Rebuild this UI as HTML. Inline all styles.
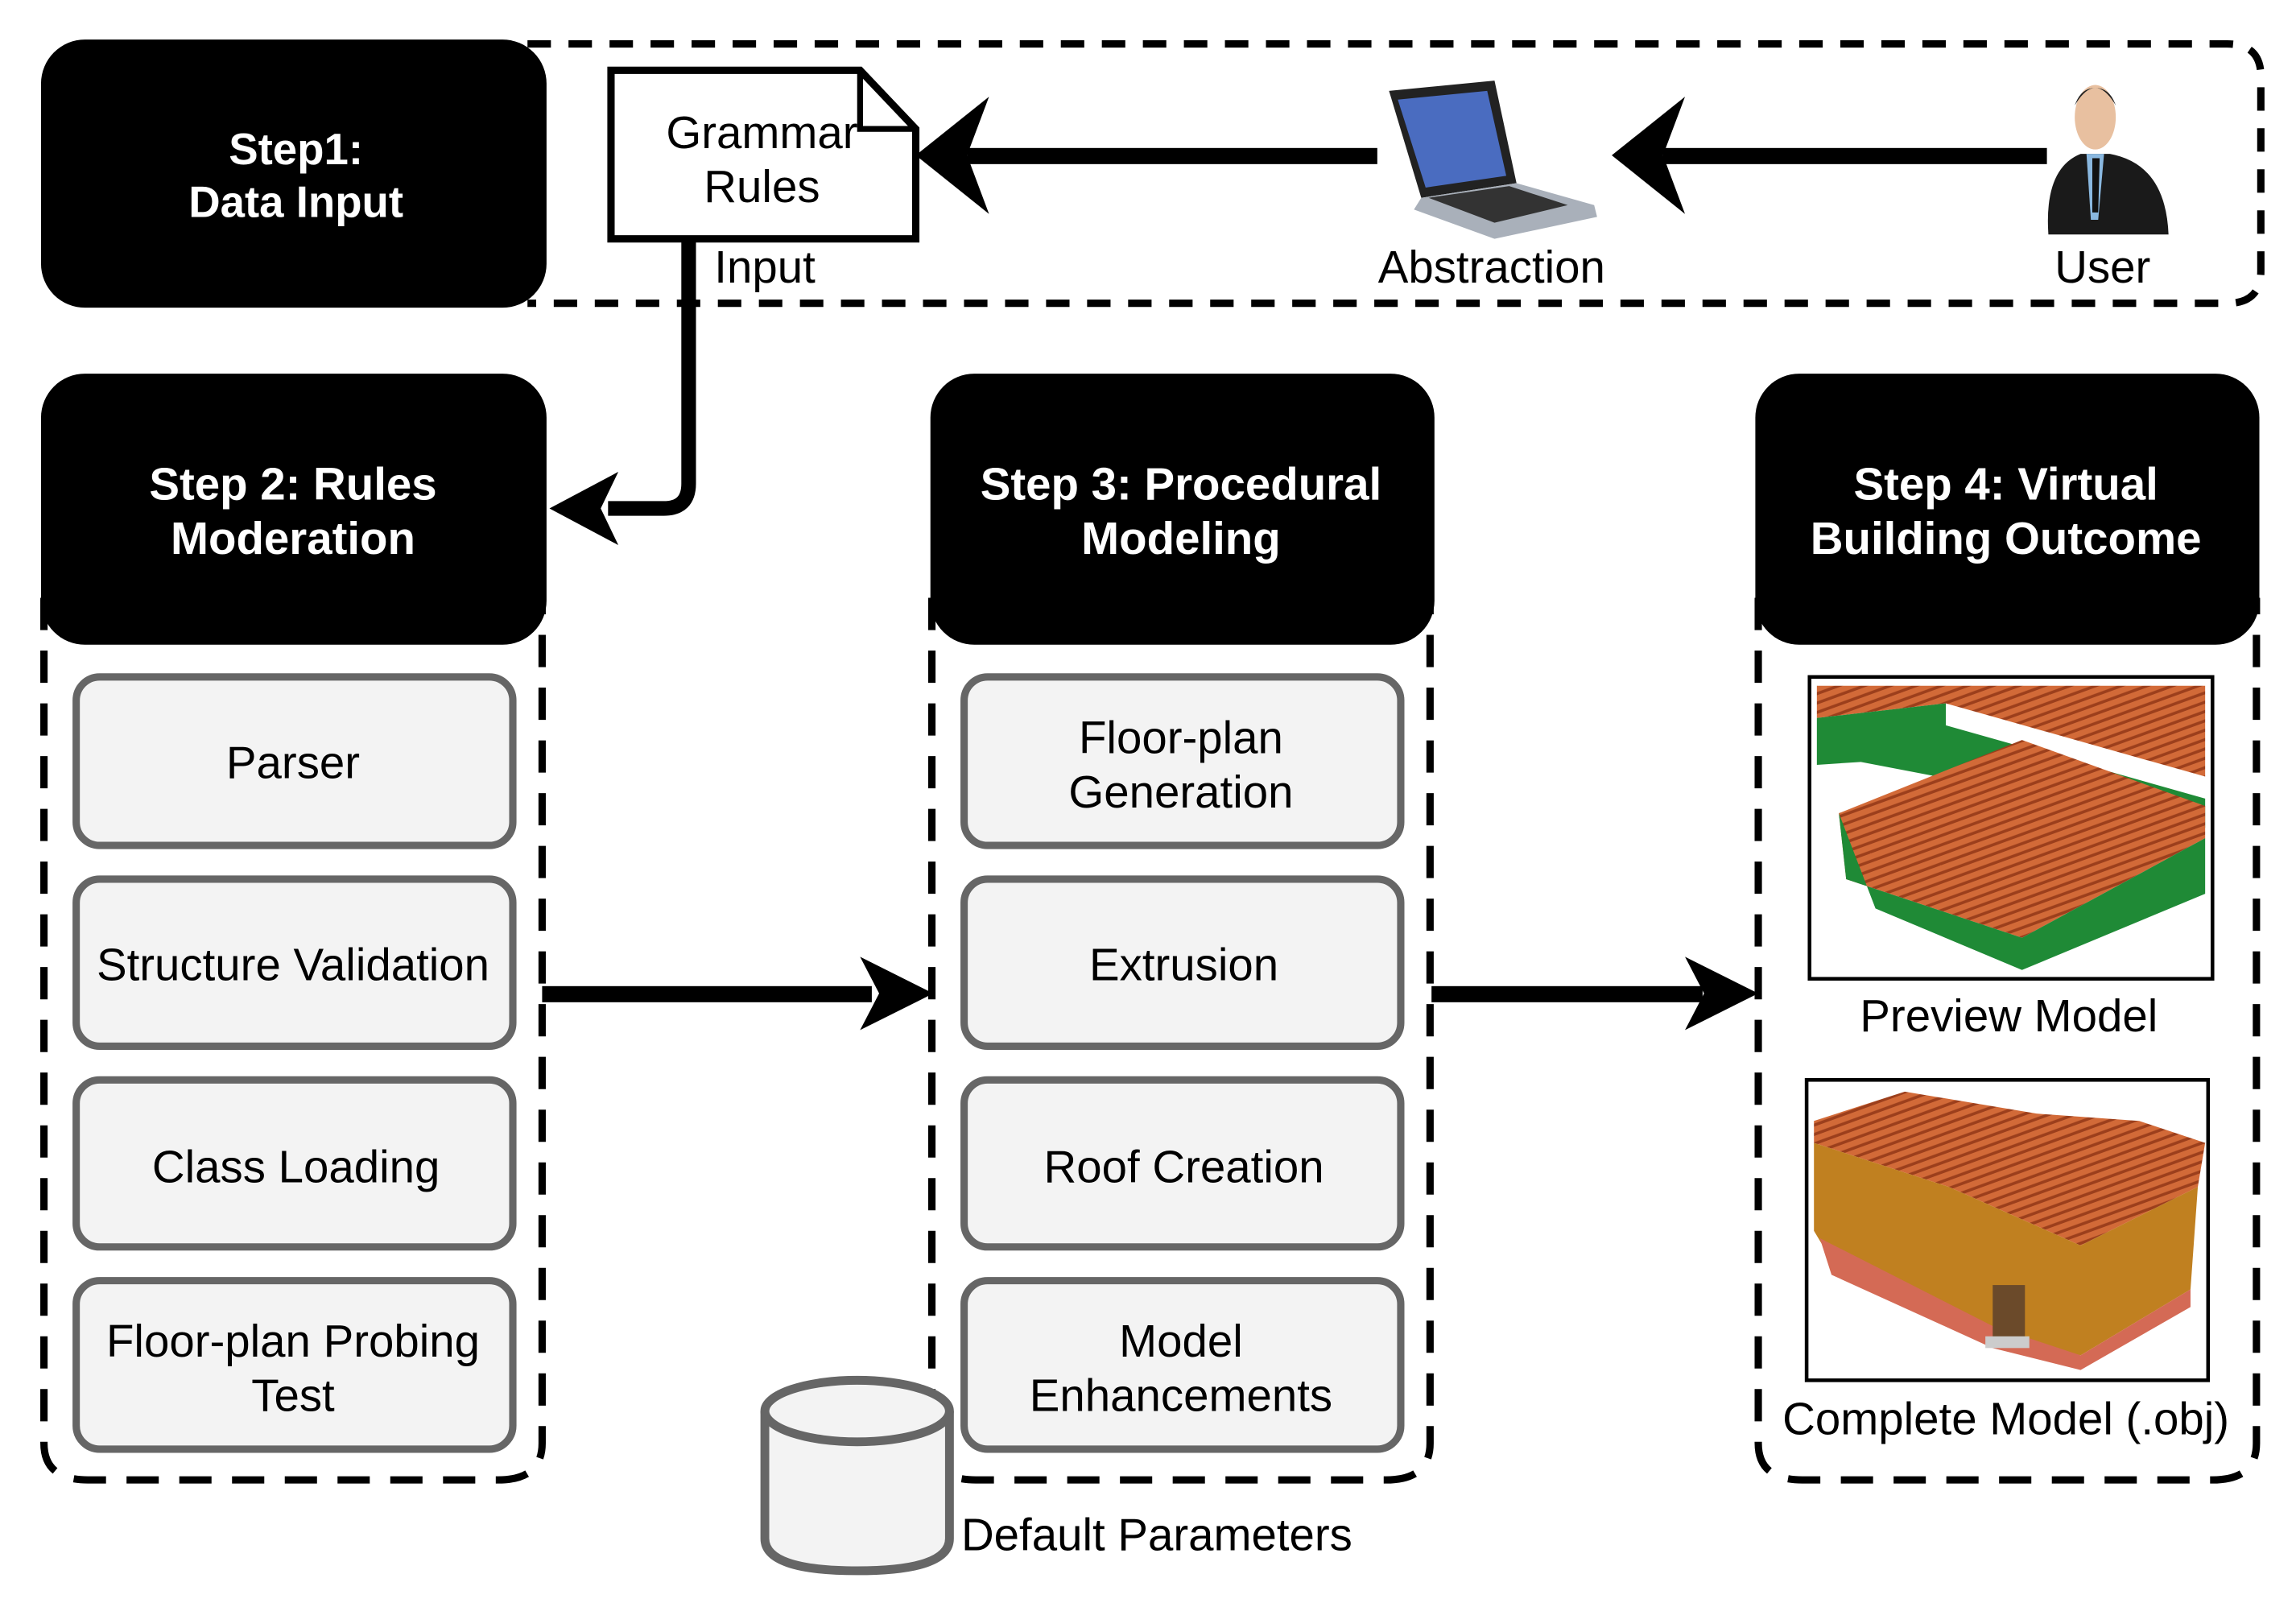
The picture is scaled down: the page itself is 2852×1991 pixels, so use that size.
<!DOCTYPE html>
<html><head><meta charset="utf-8"><style>
html,body{margin:0;padding:0;background:#fff;}
svg{display:block;}
text{font-family:"Liberation Sans",sans-serif;}
</style></head><body>
<svg width="2852" height="1991" viewBox="0 0 1567 1094" preserveAspectRatio="none" xmlns="http://www.w3.org/2000/svg">
<defs>
<pattern id="tile" width="8" height="6" patternUnits="userSpaceOnUse" patternTransform="rotate(-20)">
<rect width="8" height="6" fill="#d26a38"/><rect y="4" width="8" height="2" fill="#9c3f1c"/>
</pattern>
</defs>
<rect width="1567" height="1094" fill="#fff"/>

<path d="M360 30 H1520 Q1543 30 1543 52 V185 Q1543 207 1520 207 H360" fill="none" stroke="#000" stroke-width="5" stroke-dasharray="16 12"/>
<rect x="28" y="27" width="345" height="183" rx="30" fill="#000"/>
<text x="202" y="112" fill="#fff" font-size="30" font-weight="bold" text-anchor="middle">Step1:</text>
<text x="202" y="148" fill="#fff" font-size="30" font-weight="bold" text-anchor="middle">Data Input</text>

<path d="M417 48 H587 L625 88 V163 H417 Z" fill="#fff" stroke="#000" stroke-width="5"/>
<path d="M587 48 V88 H625" fill="none" stroke="#000" stroke-width="4"/>
<text x="520" y="101" font-size="31" text-anchor="middle">Grammar</text>
<text x="520" y="138" font-size="31" text-anchor="middle">Rules</text>
<text x="522" y="193" font-size="31" text-anchor="middle">Input</text>
<text x="1018" y="193" font-size="31" text-anchor="middle">Abstraction</text>
<text x="1435" y="193" font-size="31" text-anchor="middle">User</text>

<rect x="660" y="101" width="280" height="11" fill="#000"/>
<path d="M625 106 L675 66 L660 106 L675 146 Z" fill="#000"/>
<rect x="1135" y="101" width="262" height="11" fill="#000"/>
<path d="M1100 106 L1150 66 L1135 106 L1150 146 Z" fill="#000"/>

<g>
<polygon points="948,62 1020,55 1035,125 970,135" fill="#222"/>
<polygon points="954,68 1015,62 1028,120 973,128" fill="#4a6cc0"/>
<polygon points="970,135 1035,125 1088,140 1090,148 1020,163 965,143" fill="#a9b0ba"/>
<polygon points="975,135 1030,127 1070,140 1020,152" fill="#333"/>
</g>
<g>
<ellipse cx="1430" cy="80" rx="14" ry="22" fill="#e8c0a0"/>
<path d="M1416 72 Q1430 48 1444 72 Q1440 60 1430 60 Q1420 60 1416 72Z" fill="#222"/>
<path d="M1398 160 Q1395 115 1420 105 L1440 105 Q1478 112 1480 160 Z" fill="#1a1a1a"/>
<polygon points="1424,105 1436,105 1432,150 1427,150" fill="#8ab8e0"/>
<polygon points="1428,108 1433,108 1432,145 1428,145" fill="#111"/>
</g>

<path d="M470 163 V330 Q470 347 453 347 H415" fill="none" stroke="#000" stroke-width="10"/>
<path d="M375 347 L422 322 L410 347 L422 372 Z" fill="#000"/>

<path d="M30 408 V985 Q30 1010 60 1010 H340 Q370 1010 370 985 V408" fill="none" stroke="#000" stroke-width="5" stroke-dasharray="22 14"/>
<path d="M636 408 V985 Q636 1010 666 1010 H946 Q976 1010 976 985 V408" fill="none" stroke="#000" stroke-width="5" stroke-dasharray="22 14"/>
<path d="M1200 408 V985 Q1200 1010 1230 1010 H1510 Q1540 1010 1540 985 V408" fill="none" stroke="#000" stroke-width="5" stroke-dasharray="22 14"/>

<rect x="28" y="255" width="345" height="185" rx="30" fill="#000"/>
<rect x="635" y="255" width="344" height="185" rx="30" fill="#000"/>
<rect x="1198" y="255" width="344" height="185" rx="30" fill="#000"/>
<g fill="#fff" font-size="31" font-weight="bold" text-anchor="middle">
<text x="200" y="341">Step 2: Rules</text>
<text x="200" y="378">Moderation</text>
<text x="806" y="341">Step 3: Procedural</text>
<text x="806" y="378">Modeling</text>
<text x="1369" y="341">Step 4: Virtual</text>
<text x="1369" y="378">Building Outcome</text>
</g>

<g fill="#f3f3f3" stroke="#666" stroke-width="5">
<rect x="52" y="462" width="298" height="115" rx="16"/>
<rect x="52" y="600" width="298" height="114" rx="16"/>
<rect x="52" y="737" width="298" height="114" rx="16"/>
<rect x="52" y="874" width="298" height="115" rx="16"/>
<rect x="658" y="462" width="298" height="115" rx="16"/>
<rect x="658" y="600" width="298" height="114" rx="16"/>
<rect x="658" y="737" width="298" height="114" rx="16"/>
<rect x="658" y="874" width="298" height="115" rx="16"/>
</g>
<g font-size="31" text-anchor="middle">
<text x="200" y="531">Parser</text>
<text x="200" y="669">Structure Validation</text>
<text x="202" y="807">Class Loading</text>
<text x="200" y="926">Floor-plan Probing</text>
<text x="200" y="963">Test</text>
<text x="806" y="514">Floor-plan</text>
<text x="806" y="551">Generation</text>
<text x="808" y="669">Extrusion</text>
<text x="808" y="807">Roof Creation</text>
<text x="806" y="926">Model</text>
<text x="806" y="963">Enhancements</text>
<text x="1371" y="704">Preview Model</text>
<text x="1369" y="979">Complete Model (.obj)</text>
</g>

<rect x="370" y="673" width="225" height="11" fill="#000"/>
<path d="M637 678 L587 653 L600 678 L587 703 Z" fill="#000"/>
<rect x="977" y="673" width="185" height="11" fill="#000"/>
<path d="M1200 678 L1150 653 L1163 678 L1150 703 Z" fill="#000"/>

<rect x="1235" y="462" width="275" height="206" fill="#fff" stroke="#000" stroke-width="2.5"/>
<polygon points="1240,468 1505,468 1505,530 1328,480 1240,490" fill="url(#tile)"/>
<polygon points="1240,490 1328,480 1328,495 1505,545 1505,565 1270,520 1240,522" fill="#1f8a36"/>
<polygon points="1255,555 1380,505 1505,550 1505,572 1380,640 1260,600" fill="url(#tile)"/>
<polygon points="1255,555 1260,600 1380,640 1505,572 1505,610 1380,662 1280,620" fill="#1f8a36"/>

<rect x="1233" y="737" width="274" height="205" fill="#fff" stroke="#000" stroke-width="2.5"/>
<polygon points="1238,765 1300,745 1390,760 1460,765 1505,780 1500,810 1420,850 1330,810 1238,780" fill="url(#tile)"/>
<polygon points="1238,780 1330,810 1420,850 1500,810 1495,880 1420,925 1360,910 1250,860 1238,840" fill="#c08020"/>
<polygon points="1242,845 1360,905 1420,925 1495,880 1495,892 1420,935 1360,920 1250,870" fill="#d46a55"/>
<rect x="1360" y="877" width="22" height="38" fill="#6b4a2a"/>
<rect x="1355" y="912" width="30" height="8" fill="#ccc"/>

<path d="M522 963 V1050 Q522 1072 585 1072 Q648 1072 648 1050 V963" fill="#f3f3f3" stroke="#666" stroke-width="6"/>
<ellipse cx="585" cy="963" rx="63" ry="21" fill="#f3f3f3" stroke="#666" stroke-width="6"/>
<text x="656" y="1058" font-size="31">Default Parameters</text>
</svg>
</body></html>
